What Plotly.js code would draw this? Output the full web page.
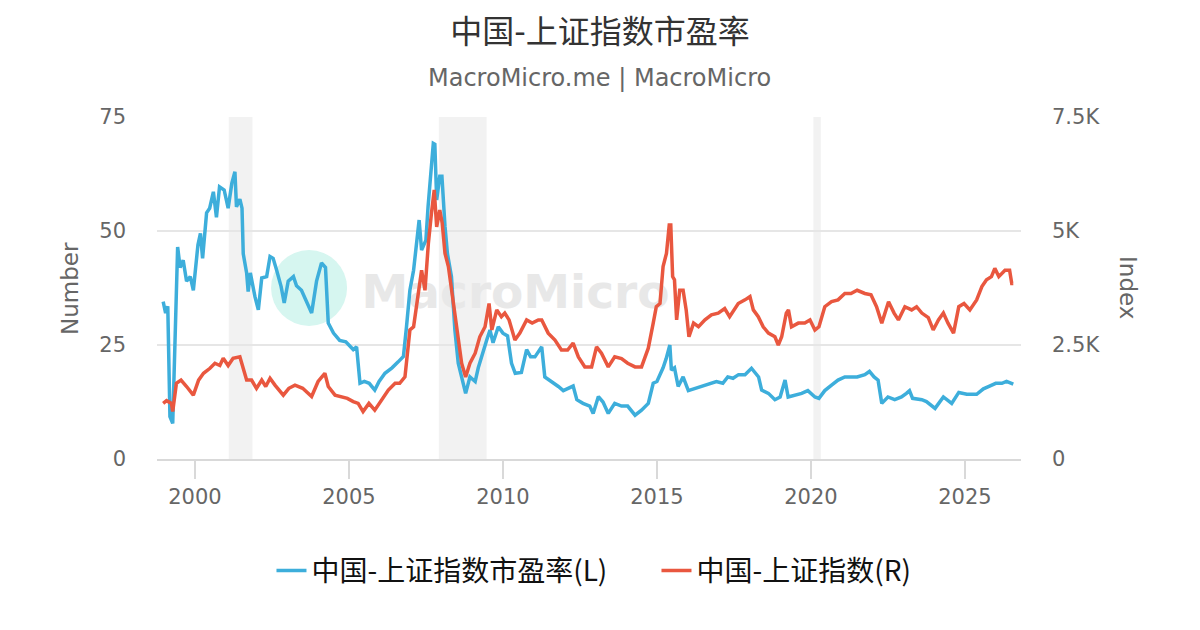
<!DOCTYPE html>
<html>
<head>
<meta charset="utf-8">
<script src="https://cdn.plot.ly/plotly-3.0.1.min.js"></script>
<style>
  html, body { margin: 0; padding: 0; background: #fff; }
  #chart { width: 1200px; height: 630px; }
</style>
</head>
<body>
<div id="chart"></div>
<script>
// P/E ratio of the Shanghai Composite (left axis), decimal years
const peYears = [
  1998.97, 1999.05, 1999.12, 1999.19, 1999.28, 1999.36, 1999.44, 1999.52, 1999.62, 1999.73,
  1999.85, 1999.95, 2000.1, 2000.18, 2000.25, 2000.38, 2000.48, 2000.6, 2000.7, 2000.8,
  2000.95, 2001.08, 2001.2, 2001.3, 2001.35, 2001.46, 2001.53, 2001.57, 2001.68, 2001.73,
  2001.8, 2001.95, 2002.06, 2002.17, 2002.33, 2002.44, 2002.54, 2002.65, 2002.8, 2002.9,
  2003.03, 2003.2, 2003.3, 2003.46, 2003.6, 2003.79, 2003.95, 2004.11, 2004.24, 2004.33,
  2004.5, 2004.7, 2004.9, 2005.14, 2005.25, 2005.36, 2005.5, 2005.66, 2005.84, 2005.98,
  2006.17, 2006.4, 2006.6, 2006.77, 2006.87, 2006.98, 2007.1, 2007.2, 2007.28, 2007.36,
  2007.5, 2007.57, 2007.66, 2007.74, 2007.79, 2007.85, 2007.95, 2008.02, 2008.12, 2008.2,
  2008.33, 2008.44, 2008.55, 2008.66, 2008.79, 2008.93, 2009.1, 2009.2, 2009.36, 2009.47,
  2009.58, 2009.68, 2009.85, 2010.0, 2010.15, 2010.28, 2010.4, 2010.6, 2010.77, 2010.9,
  2011.04, 2011.26, 2011.36, 2011.58, 2011.8, 2011.96, 2012.12, 2012.28, 2012.4, 2012.6,
  2012.82, 2012.93, 2013.1, 2013.25, 2013.42, 2013.63, 2013.85, 2014.05, 2014.29, 2014.5,
  2014.72, 2014.88, 2015.0, 2015.2, 2015.3, 2015.42, 2015.47, 2015.57, 2015.69, 2015.85,
  2016.02, 2016.2, 2016.45, 2016.66, 2016.93, 2017.14, 2017.3, 2017.47, 2017.65, 2017.86,
  2018.07, 2018.3, 2018.4, 2018.62, 2018.83, 2019.0, 2019.16, 2019.26, 2019.48, 2019.7,
  2019.9, 2020.13, 2020.26, 2020.45, 2020.67, 2020.88, 2021.1, 2021.3, 2021.5, 2021.75,
  2021.9, 2022.05, 2022.18, 2022.3, 2022.5, 2022.72, 2022.94, 2023.1, 2023.2, 2023.3,
  2023.6, 2023.75, 2024.03, 2024.3, 2024.57, 2024.8, 2025.06, 2025.38, 2025.6, 2025.8,
  2026.0, 2026.2, 2026.35, 2026.57
];
const peValues = [
  34.5, 32, 33.5, 9.3, 7.8, 28, 46.5, 42, 43.6, 39,
  40, 37, 47, 49.5, 44, 54, 55, 58.6, 53, 59.7,
  59, 55, 60.5, 63, 55.3, 57, 55, 45, 40.8, 36.7,
  40.8, 35.6, 32.7, 39.7, 40, 44.4, 44, 41.5, 37.8, 34.2,
  39, 40, 38, 37, 35, 32, 39, 43, 42, 29.8,
  27.6, 26, 25.7, 24, 24.6, 16.6, 17, 16.6, 15.1, 17,
  18.8, 20, 21.3, 22.5, 29, 37, 41.4, 47.3, 52.4, 45.8,
  48, 55.3, 62, 69.2, 69, 56.8, 62, 62, 51, 45,
  40, 28.3, 21, 18, 14.4, 18, 17, 20, 23.2, 26,
  28.3, 25.5, 29, 27.6, 27, 21, 18.8, 19, 24, 22.4,
  22.4, 24.6, 18, 17, 15.9, 15, 15.4, 16, 13, 12.2,
  11.6, 10, 13.7, 12.5, 10, 12.2, 11.6, 11.6, 9.6, 10.7,
  12.2, 16.6, 17, 20, 22, 25, 19.5, 20, 15.9, 18,
  15, 15.4, 16, 16.6, 17, 16.6, 18, 17.7, 18.5, 18.5,
  19.9, 18, 15.1, 14.4, 13, 13.6, 17.3, 13.6, 14, 14.4,
  15, 13.6, 13.3, 15, 16.2, 17.3, 18, 18, 18, 18.5,
  19.2, 18, 17.3, 12.2, 13.6, 13, 13.6, 14.4, 15, 13.3,
  13, 12.6, 11.1, 13.6, 12.2, 14.6, 14.2, 14.2, 15.4, 16,
  16.6, 16.6, 17, 16.4
];

// Shanghai Composite Index level (right axis), decimal years
const idxYears = [
  1998.97, 1999.08, 1999.24, 1999.28, 1999.4, 1999.55, 1999.73, 1999.95, 2000.12, 2000.28,
  2000.49, 2000.65, 2000.81, 2000.92, 2001.08, 2001.24, 2001.46, 2001.52, 2001.68, 2001.84,
  2002.0, 2002.17, 2002.3, 2002.44, 2002.6, 2002.87, 2003.05, 2003.25, 2003.5, 2003.79,
  2004.0, 2004.22, 2004.33, 2004.55, 2004.76, 2004.95, 2005.14, 2005.3, 2005.46, 2005.65,
  2005.84, 2006.06, 2006.28, 2006.5, 2006.65, 2006.82, 2006.98, 2007.1, 2007.25, 2007.36,
  2007.47, 2007.58, 2007.68, 2007.77, 2007.85, 2007.95, 2008.03, 2008.12, 2008.23, 2008.33,
  2008.44, 2008.55, 2008.66, 2008.79, 2008.93, 2009.1, 2009.25, 2009.42, 2009.55, 2009.64,
  2009.8, 2009.95, 2010.06, 2010.2, 2010.39, 2010.55, 2010.77, 2010.95, 2011.15, 2011.26,
  2011.47, 2011.69, 2011.9, 2012.1, 2012.28, 2012.45, 2012.66, 2012.88, 2013.04, 2013.2,
  2013.42, 2013.63, 2013.85, 2014.05, 2014.29, 2014.5, 2014.72, 2014.88, 2014.98, 2015.1,
  2015.2, 2015.31, 2015.4, 2015.45, 2015.51, 2015.57, 2015.64, 2015.74, 2015.85, 2015.95,
  2016.04, 2016.19, 2016.35, 2016.56, 2016.77, 2016.99, 2017.2, 2017.36, 2017.64, 2017.86,
  2018.02, 2018.13, 2018.29, 2018.45, 2018.62, 2018.83, 2018.94, 2019.05, 2019.2, 2019.27,
  2019.37, 2019.59, 2019.8, 2019.97, 2020.13, 2020.26, 2020.45, 2020.67, 2020.88, 2021.1,
  2021.3, 2021.5, 2021.75, 2021.95, 2022.13, 2022.3, 2022.52, 2022.7, 2022.84, 2023.05,
  2023.27, 2023.43, 2023.6, 2023.81, 2023.97, 2024.14, 2024.3, 2024.45, 2024.63, 2024.8,
  2024.97, 2025.16, 2025.38, 2025.55, 2025.7, 2025.86, 2025.97, 2026.1, 2026.3, 2026.45,
  2026.52, 2026.57
];
const idxValues = [
  1220, 1280, 1220, 1040, 1660, 1730, 1590, 1400, 1730, 1880,
  1990, 2100, 2050, 2210, 2050, 2210, 2240, 2100, 1730, 1730,
  1550, 1730, 1590, 1770, 1620, 1400, 1550, 1620, 1550, 1370,
  1700, 1880, 1590, 1400, 1370, 1330, 1260, 1220, 1040, 1220,
  1070, 1280, 1510, 1660, 1660, 1800, 2830, 2900, 3560, 4140,
  3700, 4730, 5390, 5900, 5090, 5460, 5170, 4510, 4220, 3700,
  3120, 2540, 2100, 1800, 2100, 2320, 2680, 2900, 3410, 2830,
  3270, 3120, 3200, 3050, 2610, 2760, 3050, 2980, 3050, 3050,
  2760, 2610, 2390, 2390, 2540, 2240, 2020, 2020, 2460, 2320,
  2020, 2240, 2200, 2100, 2020, 2020, 2430, 2980, 3340, 3410,
  4220, 4510, 5130, 5130, 4000, 3930, 3050, 3700, 3700, 3270,
  2680, 2980, 2900, 3050, 3160, 3200, 3300, 3120, 3410, 3490,
  3560, 3270, 3120, 2900, 2760, 2680, 2500, 2680, 3200, 3270,
  2900, 2980, 2980, 3050, 2830, 2900, 3340, 3450, 3490, 3630,
  3630, 3700, 3630, 3600, 3340, 2980, 3450, 3200, 3050, 3340,
  3270, 3340, 3200, 3100, 2830, 3050, 3200, 2980, 2760, 3340,
  3410, 3270, 3490, 3780, 3930, 4000, 4180, 4000, 4140, 4140,
  3850, 3850
];

// shaded periods (start, end)
const bandStarts = [2001.1, 2007.92, 2020.08];
const bandEnds = [2001.87, 2009.47, 2020.32];

const xTicks = [2000, 2005, 2010, 2015, 2020, 2025];
const leftTicks = [0, 25, 50, 75];
const rightTicks = [0, 2500, 5000, 7500];
const rightTickText = ['0', '2.5K', '5K', '7.5K'];

const baseFont = 'DejaVu Sans, Noto Sans CJK SC, sans-serif';

/**
 * Builds the gray background bands.
 * @return {Array} shapes for the layout
 */
function makeBands(){
  const shapes = [];
  for (let i = 0; i < bandStarts.length; i++){
    shapes.push({
      type: 'rect', layer: 'below', xref: 'x', yref: 'paper',
      x0: bandStarts[i], x1: bandEnds[i], y0: 0, y1: 1,
      fillcolor: '#f2f2f2', line: {width: 0}
    });
  }
  return shapes;
}

const shapes = makeBands();
// watermark
shapes.push({
  type: 'circle', layer: 'below', xref: 'paper', yref: 'paper',
  x0: 0.132, x1: 0.220, y0: 0.389, y1: 0.611,
  fillcolor: '#d6f6f0', line: {width: 0}
});
shapes.push({
  type: 'rect', layer: 'below', xref: 'paper', yref: 'paper',
  x0: 0.24, x1: 0.59, y0: 0.40, y1: 0.60,
  fillcolor: 'rgba(0,0,0,0)', line: {width: 0},
  label: {text: '<b>MacroMicro</b>', textposition: 'middle center',
    font: {family: 'DejaVu Sans', size: 47, color: '#e8e8e8'}}
});

const traces = [
  {
    x: peYears, y: peValues, type: 'scatter', mode: 'lines',
    name: '中国-上证指数市盈率(L)',
    line: {color: '#3daedb', width: 3.5},
    yaxis: 'y'
  },
  {
    x: idxYears, y: idxValues, type: 'scatter', mode: 'lines',
    name: '中国-上证指数(R)',
    line: {color: '#e9573f', width: 3.5},
    yaxis: 'y2'
  }
];

const layout = {
  width: 1200, height: 630,
  margin: {l: 157, r: 179, t: 117, b: 171},
  paper_bgcolor: '#fff', plot_bgcolor: '#fff',
  font: {family: baseFont, color: '#666', size: 21},
  title: {
    text: '中国-上证指数市盈率', x: 0.5, xanchor: 'center',
    y: 0.949, yanchor: 'middle', yref: 'container',
    font: {family: baseFont, size: 32, color: '#333'}
  },
  showlegend: true,
  legend: {
    orientation: 'h', x: 0.1325, xanchor: 'left', y: -0.327, yanchor: 'middle',
    entrywidth: 340, entrywidthmode: 'pixels',
    font: {family: 'Noto Sans CJK SC, sans-serif', size: 28, color: '#111'},
    itemclick: false, traceorder: 'normal'
  },
  xaxis: {
    range: [1998.77, 2026.82], tickvals: xTicks, ticktext: xTicks.map(String),
    showgrid: false, zeroline: false,
    showline: true, linecolor: '#d9d9d9', linewidth: 2,
    ticks: 'outside', ticklen: 18, tickwidth: 2, tickcolor: '#d9d9d9',
    tickfont: {size: 21, color: '#666'}
  },
  yaxis: {
    range: [0, 75], tickvals: leftTicks, showgrid: true, gridcolor: '#e6e6e6', gridwidth: 2,
    zeroline: false, ticks: '', ticklabelstandoff: 30,
    tickfont: {size: 21, color: '#666'}
  },
  yaxis2: {
    range: [0, 7500], tickvals: rightTicks, ticktext: rightTickText,
    overlaying: 'y', side: 'right', showgrid: false, zeroline: false,
    ticks: '', ticklabelstandoff: 30,
    tickfont: {size: 21, color: '#666'}
  },
  shapes: shapes,
  annotations: [
    {text: 'MacroMicro.me | MacroMicro', xref: 'paper', yref: 'paper',
      x: 0.5127, y: 1.114, xanchor: 'center', yanchor: 'middle', showarrow: false,
      font: {family: baseFont, size: 24, color: '#666'}},
    {text: 'Number', xref: 'paper', yref: 'paper', x: -0.1007, y: 0.5,
      xanchor: 'center', yanchor: 'middle', textangle: -90, showarrow: false,
      font: {family: baseFont, size: 23, color: '#666'}},
    {text: 'Index', xref: 'paper', yref: 'paper', x: 1.1238, y: 0.5,
      xanchor: 'center', yanchor: 'middle', textangle: 90, showarrow: false,
      font: {family: baseFont, size: 23, color: '#666'}}
  ]
};

Plotly.newPlot('chart', traces, layout, {staticPlot: true, displayModeBar: false});
</script>
</body>
</html>
